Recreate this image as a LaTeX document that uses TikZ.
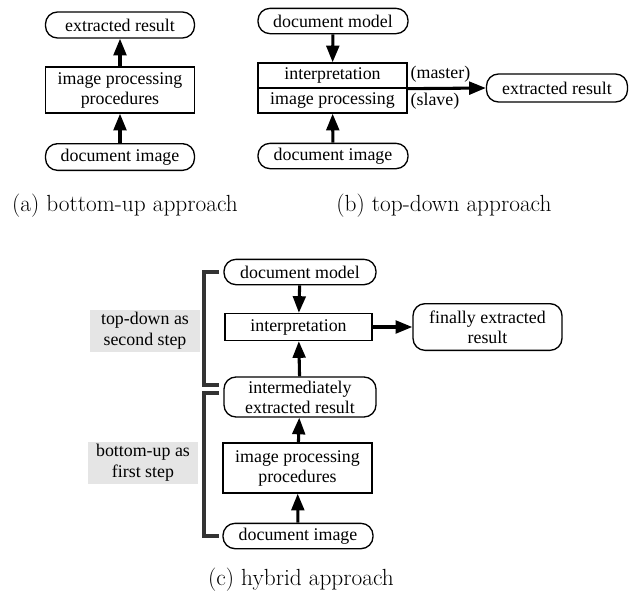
\documentclass[tikz,border=0pt]{standalone}
\usepackage{fontspec}
\usetikzlibrary{arrows.meta}
\newfontfamily\boxfont{Liberation Serif}

\begin{document}
\begin{tikzpicture}[x=0.75pt,y=-0.75pt,
    box/.style={draw,line width=1pt,align=center,inner sep=0pt,
      font=\boxfont\fontsize{13.4}{15}\selectfont},
    pill/.style={box,rounded corners=9pt},
    flow/.style={line width=2.3pt,-{Triangle[length=12.5pt,width=9.5pt]}},
    bracket/.style={line width=3pt,black!80},
    note/.style={fill=black!10,align=center,inner sep=0pt,
      minimum width=82pt,minimum height=32pt,
      font=\boxfont\fontsize{13.4}{15.5}\selectfont},
    caption/.style={font=\fontsize{17.5}{20}\selectfont}]
    \useasboundingbox (0,0) rectangle (634,596);

    % (a) bottom-up
    \node[pill,minimum width=111.75pt,minimum height=19.5pt] (resa) at (120,25) {extracted result};
    \node[box,minimum width=111.75pt,minimum height=34.5pt] (proca) at (120,90) {image processing\\procedures};
    \node[pill,minimum width=111.75pt,minimum height=20pt] (imga) at (120,157) {document image};
    \draw[flow] (imga) -- (proca);
    \draw[flow] (proca) -- (resa);
    \node[caption] (capa) at (125,206) {(a) bottom-up approach};

    % (b) top-down
    \node[pill,minimum width=112.5pt,minimum height=19pt] (modelb) at (333,21) {document model};
    \node[box,minimum width=111.75pt,minimum height=18.75pt] (interpb) at (332.5,75.5) {interpretation};
    \node[box,minimum width=111.75pt,minimum height=18.75pt] (procb) at (332.5,100.5) {image processing};
    \node[pill,minimum width=112.5pt,minimum height=19pt] (imgb) at (333,156) {document image};
    \node[pill,minimum width=105.75pt,minimum height=21pt] (resb) at (557,88) {extracted result};
    \node[box,draw=none,anchor=west] (master) at (410,74) {(master)};
    \node[box,draw=none,anchor=west] (slave) at (410,101) {(slave)};
    \draw[flow] (modelb) -- (interpb);
    \draw[flow] (imgb) -- (procb);
    \draw[flow] (interpb.south east) -- (resb.west);
    \node[caption] (capb) at (444,206) {(b) top-down approach};

    % (c) hybrid
    \node[pill,minimum width=114pt,minimum height=19pt] (modelc) at (300,272) {document model};
    \node[box,minimum width=110.25pt,minimum height=20.25pt] (interpc) at (298.5,327) {interpretation};
    \node[pill,minimum width=111.75pt,minimum height=35pt] (finalc) at (487.5,327) {finally extracted\\result};
    \node[pill,minimum width=114pt,minimum height=30pt] (midc) at (300,397) {intermediately\\extracted result};
    \node[box,minimum width=111.75pt,minimum height=37.5pt] (procc) at (297.5,468) {image processing\\procedures};
    \node[pill,minimum width=112.5pt,minimum height=19pt] (imgc) at (298,536) {document image};
    \draw[flow] (modelc) -- (interpc);
    \draw[flow] (midc) -- (interpc);
    \draw[flow] (procc) -- (midc);
    \draw[flow] (imgc) -- (procc);
    \draw[flow] (interpc) -- (finalc);

    % step brackets
    \draw[bracket] (219,272) -- (204,272) -- (204,385) -- (219,385);
    \draw[bracket] (219,393) -- (204,393) -- (204,536) -- (219,536);
    \node[note] (second) at (145,331) {top-down as\\second step};
    \node[note] (first) at (143,463) {bottom-up as\\first step};
    \node[caption] (capc) at (301,580) {(c) hybrid approach};
\end{tikzpicture}
\end{document}
